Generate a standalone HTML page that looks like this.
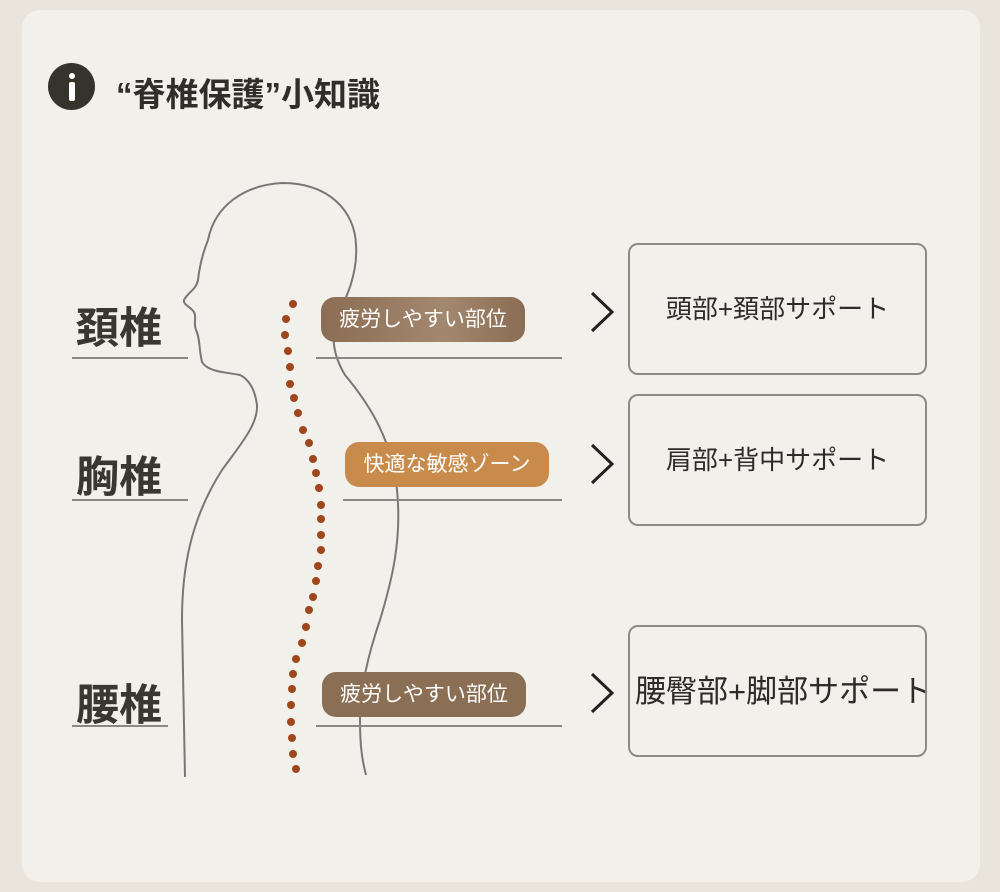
<!DOCTYPE html>
<html><head><meta charset="utf-8"><style>
body{margin:0;width:1000px;height:892px;background:#e9e5dc;font-family:"Liberation Sans","Noto Sans CJK JP",sans-serif;position:relative;overflow:hidden}
.card{position:absolute;left:22px;top:10px;width:958px;height:872px;background:#f2f0ea;border-radius:18px}
.abs{position:absolute}
.lbl{position:absolute;font-size:43px;font-weight:bold;color:#3a3733;left:76px}
.ln{position:absolute;height:2px;background:#8a8884}
.pill{position:absolute;height:45px;border-radius:14px;color:#fff;font-size:21px;line-height:45px;text-align:center}
.box{position:absolute;left:628px;width:295px;border:2px solid #8c8a87;border-radius:10px;font-size:26px;color:#2e2c2a;text-align:center}
</style></head><body>
<div class="card"></div>
<div class="abs" style="left:48px;top:63px;width:47px;height:47px;border-radius:50%;background:#35342c"></div>
<div class="abs" style="left:69px;top:73px;width:6px;height:6px;border-radius:50%;background:#fff"></div>
<div class="abs" style="left:69px;top:82px;width:6px;height:19px;background:#fff;border-radius:2px"></div>
<div class="abs" style="left:116px;top:68px;font-size:33px;font-weight:bold;color:#302e2a">“脊椎保護”小知識</div>
<svg class="abs" style="left:0;top:0" width="1000" height="892">
<path d="M185,777 L182,620 C182,570 190,520 222,470 C240,445 258,425 257,405 C255,390 250,380 240,375 C225,372 208,372 202,362 C199,350 200,338 196,330 C193,322 197,318 194,312 C190,306 183,305 184,300 C188,292 196,290 198,280 C200,262 204,250 208,240 C215,205 245,185 282,183 C330,183 355,212 356,245 C358,275 345,300 338,315 C330,335 333,355 345,375 C370,405 392,440 397,490 C402,540 392,580 380,620 C368,655 360,690 360,720 C360,745 362,760 366,775" fill="none" stroke="#777" stroke-width="2"/>
<g fill="#a0461c">
<circle cx="293" cy="304" r="4"/><circle cx="286" cy="319" r="4"/><circle cx="285" cy="335" r="4"/><circle cx="288" cy="351" r="4"/><circle cx="290" cy="367" r="4"/>
<circle cx="290" cy="384" r="4"/><circle cx="294" cy="398" r="4"/><circle cx="298" cy="413" r="4"/><circle cx="303" cy="430" r="4"/><circle cx="309" cy="443" r="4"/><circle cx="313" cy="459" r="4"/><circle cx="316" cy="473" r="4"/><circle cx="319" cy="488" r="4"/><circle cx="321" cy="505" r="4"/><circle cx="321" cy="519" r="4"/><circle cx="321" cy="535" r="4"/><circle cx="321" cy="550" r="4"/><circle cx="318" cy="566" r="4"/><circle cx="316" cy="581" r="4"/><circle cx="313" cy="597" r="4"/><circle cx="309" cy="610" r="4"/><circle cx="306" cy="627" r="4"/><circle cx="302" cy="643" r="4"/><circle cx="296" cy="659" r="4"/><circle cx="293" cy="674" r="4"/><circle cx="292" cy="689" r="4"/><circle cx="291" cy="705" r="4"/><circle cx="291" cy="722" r="4"/><circle cx="292" cy="738" r="4"/><circle cx="293" cy="754" r="4"/><circle cx="296" cy="769" r="4"/>
</g>
<g fill="none" stroke="#222" stroke-width="3">
<path d="M592,293 L612,312 L592,331"/><path d="M592,445 L612,464 L592,483"/><path d="M592,674 L612,693 L592,712"/>
</g>
</svg>
<div class="lbl" style="top:294px">頚椎</div>
<div class="lbl" style="top:443px">胸椎</div>
<div class="lbl" style="top:671px">腰椎</div>
<div class="ln" style="left:72px;top:357px;width:116px"></div>
<div class="ln" style="left:72px;top:499px;width:116px"></div>
<div class="ln" style="left:72px;top:725px;width:96px"></div>
<div class="ln" style="left:316px;top:357px;width:246px"></div>
<div class="ln" style="left:343px;top:499px;width:219px"></div>
<div class="ln" style="left:316px;top:725px;width:246px"></div>
<div class="pill" style="left:321px;top:297px;width:204px;background:linear-gradient(90deg,#8a6d52,#a38870 60%,#8a6d52)">疲労しやすい部位</div>
<div class="pill" style="left:345px;top:442px;width:204px;background:#c98b4c">快適な敏感ゾーン</div>
<div class="pill" style="left:322px;top:672px;width:204px;background:#8a6f55">疲労しやすい部位</div>
<div class="box" style="top:243px;height:128px;line-height:128px">頭部+頚部サポート</div>
<div class="box" style="top:394px;height:128px;line-height:128px">肩部+背中サポート</div>
<div class="abs" style="left:635px;top:625px;width:340px;height:128px;line-height:134px;font-size:31px;color:#2e2c2a;white-space:nowrap">腰臀部+脚部サポート</div>
<div class="abs" style="left:628px;top:625px;width:295px;height:128px;border:2px solid #8c8a87;border-radius:10px"></div>
</body></html>
